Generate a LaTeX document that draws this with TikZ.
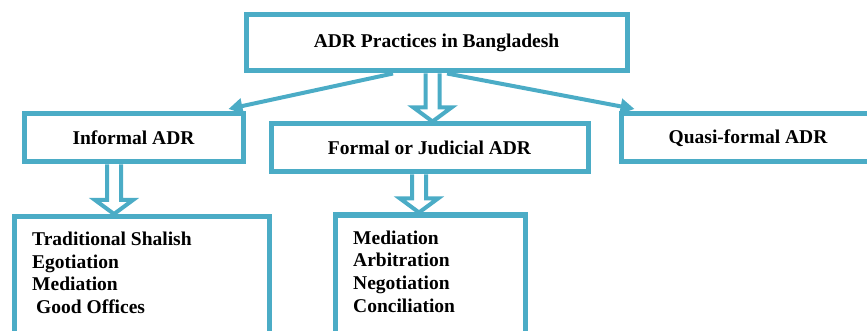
\documentclass[tikz,border=0pt]{standalone}
\usepackage{fontspec}
\setmainfont{Liberation Serif}
\usetikzlibrary{arrows.meta,calc}
\definecolor{adrblue}{RGB}{75,172,198}
\newcommand\hollowarrow[2]{%
  \draw[hollow] ([xshift=-7pt]#1) -- ([xshift=-7pt,yshift=14pt]#2) -- ([xshift=-19pt,yshift=14pt]#2) -- (#2)
    -- ([xshift=19pt,yshift=14pt]#2) -- ([xshift=7pt,yshift=14pt]#2) -- ([xshift=7pt]#1);}
\begin{document}
\begin{tikzpicture}[x=1pt,y=-1pt,
  box/.style={draw=adrblue,line width=5pt,inner sep=0pt,font=\bfseries\fontsize{19.5}{22.6}\selectfont},
  conn/.style={draw=adrblue,line width=4pt,-{Triangle[length=14pt,width=15pt]}},
  hollow/.style={draw=adrblue,line width=4pt,line join=miter},
  list/.style={anchor=north west,inner sep=0pt,align=left,font=\bfseries\fontsize{19.5}{22.6}\selectfont}]
\useasboundingbox (0,0) rectangle (867,331);
\clip (0,0) rectangle (867,331);

\node[box,minimum width=381pt,minimum height=56pt] (top) at (436.5,43) {ADR Practices in Bangladesh};
\node[box,minimum width=219pt,minimum height=48pt] (informal) at (133.5,138) {Informal ADR};
\node[box,minimum width=317pt,minimum height=48pt] (formal) at (429.5,148) {Formal or Judicial ADR};
\node[box,minimum width=254pt,minimum height=48pt] (quasi) at (748,138) {Quasi-formal ADR};
\node[box,minimum width=255pt,minimum height=128pt] (bl) at (141.5,280.5) {};
\node[box,minimum width=189.5pt,minimum height=130pt] (bm) at (430.25,280) {};

\node[list] (bltext) at (32,232) {Traditional Shalish\\Egotiation\\Mediation\\\hspace{4pt}Good Offices};
\node[list] (bmtext) at (353,230.5) {Mediation\\Arbitration\\Negotiation\\Conciliation};

\draw[conn] ([xshift=-43.5pt]top.south) -- ([xshift=-17pt,yshift=2.5pt]informal.north east);
\draw[conn] ([xshift=10.5pt]top.south) -- ([xshift=16pt,yshift=2.5pt]quasi.north west);

\coordinate (a3s) at ([xshift=-4pt]top.south);
\coordinate (a3t) at (a3s |- formal.north);
\hollowarrow{a3s}{a3t}
\coordinate (a1s) at ([xshift=-19.5pt]informal.south);
\coordinate (a1t) at (a1s |- bl.north);
\hollowarrow{a1s}{a1t}
\coordinate (a2s) at ([xshift=-10.5pt]formal.south);
\coordinate (a2t) at (a2s |- bm.north);
\hollowarrow{a2s}{a2t}
\end{tikzpicture}
\end{document}
